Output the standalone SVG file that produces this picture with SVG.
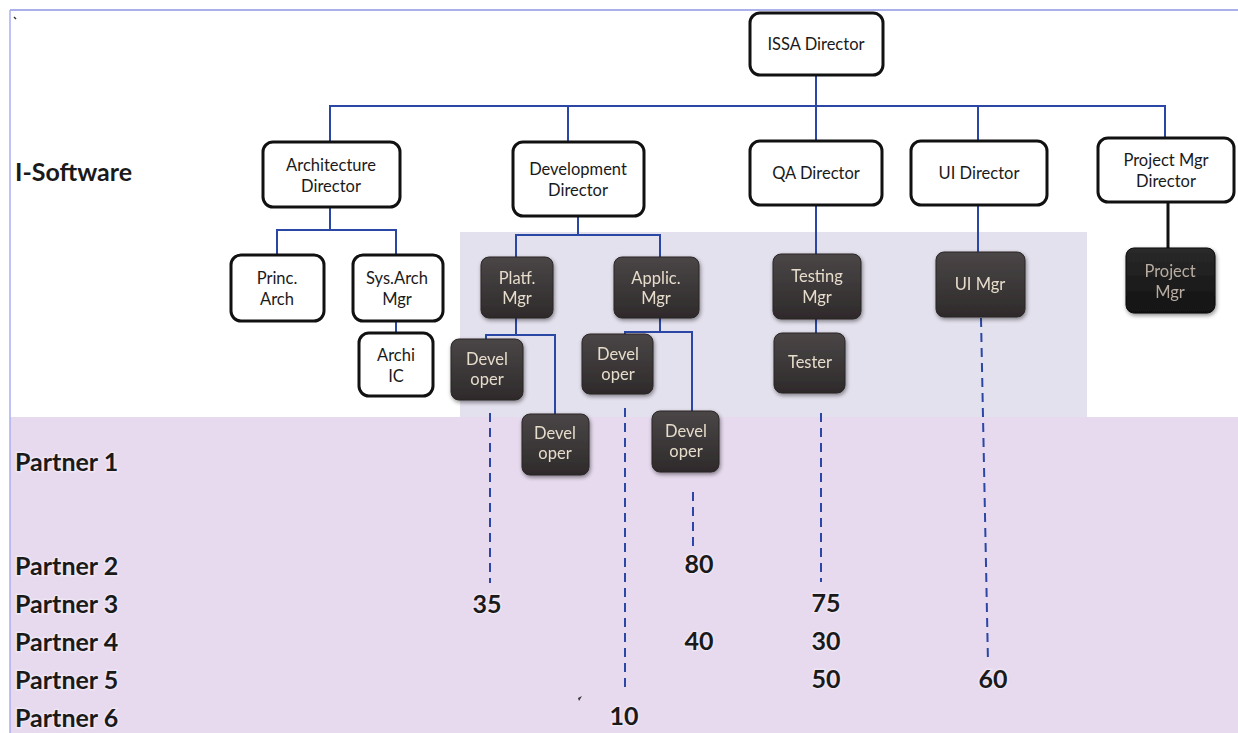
<svg xmlns="http://www.w3.org/2000/svg" width="1238" height="733" viewBox="0 0 1238 733">
  <defs>
    <linearGradient id="darkFill" x1="0" y1="0" x2="0" y2="1">
      <stop offset="0" stop-color="#4b4647"/>
      <stop offset="1" stop-color="#2e2a2b"/>
    </linearGradient>
    <linearGradient id="blackFill" x1="0" y1="0" x2="0" y2="1">
      <stop offset="0" stop-color="#2a2a2a"/>
      <stop offset="1" stop-color="#111"/>
    </linearGradient>
    <filter id="shadow" x="-20%" y="-20%" width="140%" height="150%">
      <feGaussianBlur in="SourceAlpha" stdDeviation="2"/>
      <feOffset dx="1" dy="2" result="b"/>
      <feComponentTransfer><feFuncA type="linear" slope="0.45"/></feComponentTransfer>
      <feMerge><feMergeNode/><feMergeNode in="SourceGraphic"/></feMerge>
    </filter>
  </defs>
  <style>
    .white rect { fill: #fff; stroke: #111; stroke-width: 3; }
    .dark rect { fill: url(#darkFill); stroke: #2a2627; stroke-width: 1; }
    .black rect { fill: url(#blackFill); stroke: #0c0c0c; stroke-width: 1; }
    .wt { font-family: Lato, "Open Sans", sans-serif; font-size: 16.5px; fill: #1a1a1a; text-anchor: middle; }
    .dt { font-family: Lato, "Open Sans", sans-serif; font-size: 16.5px; fill: #e6dccb; text-anchor: middle; }
    .bt { font-family: Lato, "Open Sans", sans-serif; font-size: 16.5px; fill: #b8aca2; text-anchor: middle; }
    .lbl { font-family: Lato, "Open Sans", sans-serif; font-weight: bold; font-size: 25px; fill: #1a1a1a; paint-order: stroke; stroke: #fff; stroke-opacity: 0.35; stroke-width: 3px; }
    .num { font-family: Lato, "Open Sans", sans-serif; font-weight: bold; font-size: 25px; fill: #1a1a1a; text-anchor: middle; paint-order: stroke; stroke: #fff; stroke-opacity: 0.35; stroke-width: 3px; }
    .link { fill: none; stroke: #2b47a6; stroke-width: 2; }
    .dash { fill: none; stroke: #2b47a6; stroke-width: 2; stroke-dasharray: 9 6; }
  </style>

  <!-- page background and tinted bands -->
  <rect x="0" y="0" width="1238" height="733" fill="#fff"/>
  <rect x="460" y="232" width="627" height="186" fill="#e4e1ee"/>
  <rect x="10" y="417" width="1228" height="316" fill="#e7daef"/>
  <line x1="10" y1="10" x2="1238" y2="10" stroke="#8f95e6" stroke-width="1.5"/>
  <line x1="10" y1="10" x2="10" y2="733" stroke="#a9aef0" stroke-width="1.5"/>
  <path d="M14 17 l2 2" stroke="#333" stroke-width="1.5"/>
  <path d="M578 698 l4 -2 l-3 5 z" fill="#333"/>

  <!-- row labels -->
  <g id="row-labels">
    <text class="lbl" x="15" y="181" font-size="27">I-Software</text>
    <text class="lbl" x="15" y="471">Partner 1</text>
    <text class="lbl" x="15" y="575">Partner 2</text>
    <text class="lbl" x="15" y="613">Partner 3</text>
    <text class="lbl" x="15" y="651">Partner 4</text>
    <text class="lbl" x="15" y="689">Partner 5</text>
    <text class="lbl" x="15" y="727">Partner 6</text>
  </g>

  <!-- connectors -->
  <g id="connectors">
    <path class="link" d="M816 75 V106 M330 142 V106 H1165 V137 M568 142 V106 M816 106 V142 M978 106 V142"/>
    <path class="link" d="M330 207 V230 M277 255 V230 H396 V255"/>
    <path class="link" d="M396 321 V335"/>
    <path class="link" d="M578 216 V235 M516 257 V235 H660 V257"/>
    <path class="link" d="M516 318 V335 M486 342 V335 H555 V423"/>
    <path class="link" d="M660 318 V332 M625 340 V332 H692 V422"/>
    <path class="link" d="M816 205 V254 M816 319 V344"/>
    <path class="link" d="M978 205 V252"/>
    <path d="M1168 202 V248" fill="none" stroke="#111" stroke-width="3"/>
    <path class="dash" d="M490 413 V583"/>
    <path class="dash" d="M625 408 V692"/>
    <path class="dash" d="M693 492 V548"/>
    <path class="dash" d="M821 413 V582"/>
    <path class="dash" d="M981 318 L988 663"/>
  </g>

  <!-- white boxes -->
  <g id="issa-director" class="white">
    <rect x="750" y="13" width="133" height="62" rx="10"/>
    <text class="wt" x="816" y="50" font-size="17">ISSA Director</text>
  </g>
  <g id="architecture-director" class="white">
    <rect x="263" y="142" width="137" height="65" rx="10"/>
    <text class="wt" x="331" y="171">Architecture</text>
    <text class="wt" x="331" y="192">Director</text>
  </g>
  <g id="development-director" class="white">
    <rect x="513" y="142" width="131" height="74" rx="10"/>
    <text class="wt" x="578" y="175">Development</text>
    <text class="wt" x="578" y="196">Director</text>
  </g>
  <g id="qa-director" class="white">
    <rect x="750" y="141" width="132" height="64" rx="10"/>
    <text class="wt" x="816" y="179">QA Director</text>
  </g>
  <g id="ui-director" class="white">
    <rect x="911" y="141" width="136" height="64" rx="10"/>
    <text class="wt" x="979" y="179">UI Director</text>
  </g>
  <g id="project-mgr-director" class="white">
    <rect x="1098" y="138" width="136" height="64" rx="10"/>
    <text class="wt" x="1166" y="166">Project Mgr</text>
    <text class="wt" x="1166" y="187">Director</text>
  </g>
  <g id="princ-arch" class="white">
    <rect x="231" y="255" width="93" height="66" rx="10"/>
    <text class="wt" x="277" y="284">Princ.</text>
    <text class="wt" x="277" y="305">Arch</text>
  </g>
  <g id="sys-arch-mgr" class="white">
    <rect x="353" y="255" width="90" height="66" rx="10"/>
    <text class="wt" x="397" y="284">Sys.Arch</text>
    <text class="wt" x="397" y="305">Mgr</text>
  </g>
  <g id="archi-ic" class="white">
    <rect x="359" y="333" width="74" height="63" rx="10"/>
    <text class="wt" x="396" y="361">Archi</text>
    <text class="wt" x="396" y="382">IC</text>
  </g>

  <!-- dark boxes -->
  <g id="platf-mgr" class="dark" filter="url(#shadow)">
    <rect x="481" y="257" width="72" height="61" rx="8"/>
    <text class="dt" x="517" y="284">Platf.</text>
    <text class="dt" x="517" y="304">Mgr</text>
  </g>
  <g id="applic-mgr" class="dark" filter="url(#shadow)">
    <rect x="614" y="257" width="85" height="61" rx="8"/>
    <text class="dt" x="656" y="284">Applic.</text>
    <text class="dt" x="656" y="304">Mgr</text>
  </g>
  <g id="developer-1" class="dark" filter="url(#shadow)">
    <rect x="451" y="339" width="72" height="61" rx="8"/>
    <text class="dt" x="487" y="365" font-size="15">Devel</text>
    <text class="dt" x="487" y="385" font-size="15">oper</text>
  </g>
  <g id="developer-2" class="dark" filter="url(#shadow)">
    <rect x="522" y="414" width="67" height="61" rx="8"/>
    <text class="dt" x="555" y="439" font-size="15">Devel</text>
    <text class="dt" x="555" y="459" font-size="15">oper</text>
  </g>
  <g id="developer-3" class="dark" filter="url(#shadow)">
    <rect x="582" y="334" width="71" height="60" rx="8"/>
    <text class="dt" x="618" y="360" font-size="15">Devel</text>
    <text class="dt" x="618" y="380" font-size="15">oper</text>
  </g>
  <g id="developer-4" class="dark" filter="url(#shadow)">
    <rect x="652" y="411" width="67" height="61" rx="8"/>
    <text class="dt" x="686" y="437" font-size="15">Devel</text>
    <text class="dt" x="686" y="457" font-size="15">oper</text>
  </g>
  <g id="testing-mgr" class="dark" filter="url(#shadow)">
    <rect x="773" y="254" width="88" height="65" rx="8"/>
    <text class="dt" x="817" y="282">Testing</text>
    <text class="dt" x="817" y="303">Mgr</text>
  </g>
  <g id="tester" class="dark" filter="url(#shadow)">
    <rect x="774" y="333" width="71" height="60" rx="8"/>
    <text class="dt" x="810" y="368" font-size="15.5">Tester</text>
  </g>
  <g id="ui-mgr" class="dark" filter="url(#shadow)">
    <rect x="936" y="252" width="89" height="65" rx="8"/>
    <text class="dt" x="980" y="290">UI Mgr</text>
  </g>
  <g id="project-mgr" class="black" filter="url(#shadow)">
    <rect x="1126" y="248" width="89" height="65" rx="8"/>
    <text class="bt" x="1170" y="277">Project</text>
    <text class="bt" x="1170" y="298">Mgr</text>
  </g>

  <!-- headcount figures -->
  <g id="figures">
    <text class="num" x="487" y="613">35</text>
    <text class="num" x="699" y="573">80</text>
    <text class="num" x="699" y="650">40</text>
    <text class="num" x="826" y="612">75</text>
    <text class="num" x="826" y="650">30</text>
    <text class="num" x="826" y="688">50</text>
    <text class="num" x="993" y="688">60</text>
    <text class="num" x="624" y="725">10</text>
  </g>
</svg>
